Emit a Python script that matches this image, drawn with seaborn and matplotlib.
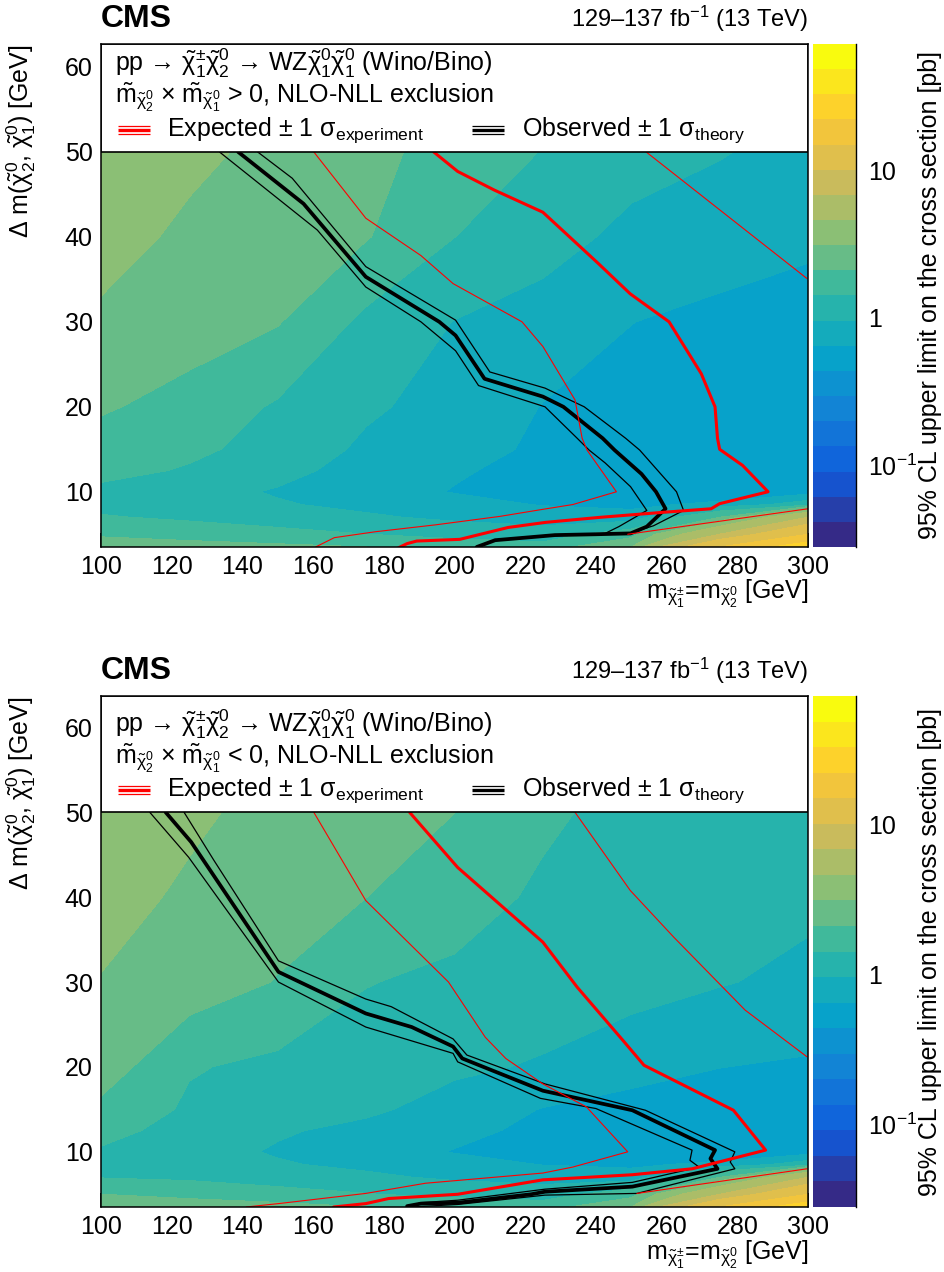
# -*- coding: utf-8 -*-
import numpy as np
import matplotlib
matplotlib.use("Agg")
import matplotlib.pyplot as plt
import seaborn as sns
from matplotlib.colors import LinearSegmentedColormap, ListedColormap, LogNorm
from matplotlib.ticker import MultipleLocator, FixedLocator, LogLocator, FuncFormatter, NullFormatter

# grid of the limit map (GeV)
mass_grid = [100, 125, 150, 175, 200, 225, 250, 275, 300]
dm_grid = [3.5, 5, 7, 8.5, 10, 12.5, 15, 20, 30, 40, 50]

# 95% CL upper limit [pb], one row per dm value (m2 x m1 > 0)
xsec_pos = [
    [2.55, 2.41, 2.27, 2.10, 1.72, 1.59, 3.11, 14.9, 26.9],
    [1.98, 1.79, 1.59, 1.42, 1.26, 1.16, 1.72, 6.81, 14.9],
    [1.47, 1.31, 1.16, 1.02, 0.867, 0.756, 0.727, 2.10, 6.81],
    [1.23, 1.12, 0.995, 0.850, 0.727, 0.634, 0.597, 0.698, 1.16],
    [1.28, 1.10, 0.920, 0.756, 0.634, 0.552, 0.510, 0.500, 0.531],
    [1.59, 1.36, 1.08, 0.801, 0.672, 0.574, 0.520, 0.491, 0.491],
    [1.79, 1.53, 1.21, 0.884, 0.727, 0.609, 0.531, 0.491, 0.481],
    [2.18, 1.83, 1.34, 1.02, 0.801, 0.638, 0.552, 0.510, 0.491],
    [2.81, 2.45, 2.14, 1.26, 0.946, 0.786, 0.650, 0.574, 0.531],
    [3.78, 2.76, 2.41, 2.14, 1.42, 1.12, 0.850, 0.786, 0.698],
    [4.25, 3.49, 2.65, 2.27, 1.86, 1.39, 1.12, 0.976, 0.850],
]

# same for m2 x m1 < 0
xsec_neg = [
    [2.87, 2.55, 2.36, 2.10, 1.79, 1.66, 3.11, 14.9, 26.9],
    [2.10, 1.86, 1.63, 1.44, 1.28, 1.19, 1.72, 6.81, 14.9],
    [1.39, 1.31, 1.16, 1.04, 0.884, 0.786, 0.741, 2.10, 6.81],
    [1.21, 1.12, 0.995, 0.867, 0.741, 0.640, 0.609, 0.698, 1.16],
    [1.34, 1.10, 0.920, 0.771, 0.634, 0.552, 0.510, 0.500, 0.520],
    [1.63, 1.16, 0.995, 0.867, 0.713, 0.586, 0.520, 0.500, 0.500],
    [1.94, 1.31, 1.14, 1.02, 0.817, 0.634, 0.541, 0.510, 0.500],
    [2.45, 1.47, 1.26, 1.12, 1.02, 0.920, 0.756, 0.650, 0.609],
    [3.04, 2.50, 2.06, 1.44, 1.28, 1.16, 1.08, 0.976, 0.884],
    [3.63, 2.87, 2.45, 2.10, 1.69, 1.31, 1.16, 1.08, 1.02],
    [4.25, 3.36, 2.65, 2.36, 2.10, 1.53, 1.21, 1.08, 0.976],
]

# exclusion contours, m2 x m1 > 0
exp_pos_x = [194.1, 200.9, 211.3, 225.0, 240.6, 249.7, 260.7, 269.8, 273.7, 274.4, 275.0, 281.5, 288.7,
             275.0, 272.6, 259.6, 241.4, 225.8, 215.2, 201.5, 189.3, 186.6, 184.1]
exp_pos_y = [50.0, 47.7, 45.5, 42.9, 36.9, 33.3, 30.0, 23.9, 20.0, 16.3, 15.0, 13.1, 10.0,
             8.6, 8.0, 7.6, 7.0, 6.4, 5.8, 4.4, 4.2, 3.9, 3.4]
exp_pos_dn_x = [160.2, 174.9, 190.5, 199.6, 219.1, 225.0, 234.1, 236.1, 237.5, 245.8,
                233.5, 224.5, 212.8, 194.5, 177.7, 166.0, 160.7]
exp_pos_dn_y = [50.0, 42.2, 37.8, 34.5, 30.0, 27.1, 20.8, 16.3, 14.9, 10.0,
                8.5, 7.9, 7.1, 6.1, 5.3, 4.6, 3.5]
exp_pos_up_x = [[254.2, 299.7], [300.0, 249.0]]
exp_pos_up_y = [[50.0, 35.1], [8.0, 5.0]]
obs_pos_x = [138.8, 157.3, 174.9, 195.7, 200.3, 208.5, 225.0, 230.8, 241.9, 245.3, 252.9, 257.0, 259.7,
             254.4, 249.8, 240.0, 228.4, 220.0, 211.5, 206.3]
obs_pos_y = [50.0, 43.9, 35.3, 30.0, 28.4, 23.3, 21.2, 20.0, 16.3, 14.9, 12.1, 10.0, 8.0,
             5.9, 5.1, 5.0, 4.9, 4.6, 4.3, 3.5]
obs_pos_up_x = [144.3, 154.1, 174.9, 200.3, 210.0, 225.6, 236.7, 248.4, 252.4, 262.8, 264.8,
                256.3, 249.8, 240.0, 228.4, 220.0, 211.5, 206.3]
obs_pos_up_y = [50.0, 46.9, 36.5, 30.2, 24.1, 22.2, 20.0, 16.3, 14.9, 10.0, 7.8,
                6.0, 5.15, 5.05, 4.95, 4.65, 4.35, 3.5]
obs_pos_dn_x = [133.5, 161.2, 174.9, 190.5, 200.3, 206.8, 225.6, 234.7, 238.1, 242.6, 249.8, 254.4,
                246.5, 242.6, 228.4, 220.0, 211.5, 206.3]
obs_pos_dn_y = [50.0, 40.8, 34.1, 30.0, 26.6, 22.5, 20.0, 16.3, 14.9, 13.4, 10.6, 7.8,
                5.9, 5.1, 4.85, 4.55, 4.25, 3.5]

# exclusion contours, m2 x m1 < 0
exp_neg_x = [187.3, 200.9, 225.0, 234.7, 247.7, 253.6, 278.9, 288.0,
             267.2, 250.3, 225.0, 200.9, 181.4, 174.9, 165.8]
exp_neg_y = [50.0, 43.5, 34.7, 29.4, 23.1, 20.2, 14.9, 10.2,
             8.0, 7.3, 6.7, 5.0, 4.5, 3.9, 3.5]
exp_neg_dn_x = [160.2, 174.9, 198.3, 208.7, 214.5, 225.0, 237.3, 249.0,
                233.4, 225.0, 191.8, 174.9, 150.2, 141.1]
exp_neg_dn_y = [50.0, 39.6, 30.0, 23.5, 21.0, 18.0, 15.3, 10.0,
                8.2, 7.5, 6.3, 5.1, 3.9, 3.5]
exp_neg_up_x = [[234.1, 249.7, 262.0, 282.2, 299.7], [299.7, 251.6]]
exp_neg_up_y = [[50.0, 40.8, 35.3, 26.7, 21.2], [8.0, 5.1]]
obs_neg_x = [118.3, 125.5, 150.2, 174.9, 187.9, 199.6, 202.2, 225.0, 250.3, 273.7, 272.4, 274.4,
             250.3, 225.6, 221.7, 200.9, 190.5, 186.6]
obs_neg_y = [50.0, 46.5, 31.2, 26.3, 24.7, 22.4, 21.0, 17.2, 14.9, 10.2, 9.2, 8.0,
             5.9, 5.3, 5.0, 4.0, 3.9, 3.6]
obs_neg_up_x = [123.5, 132.0, 150.2, 174.9, 182.1, 199.6, 203.5, 225.6, 254.0, 279.3, 278.0, 279.3,
                251.6, 225.6, 200.9, 188.0]
obs_neg_up_y = [50.0, 44.3, 32.5, 28.0, 27.1, 23.3, 21.4, 18.0, 14.9, 10.0, 8.8, 8.0,
                5.1, 4.9, 3.8, 3.5]
obs_neg_dn_x = [113.8, 124.8, 150.2, 174.9, 199.6, 200.9, 224.3, 240.0, 267.2, 266.6, 269.2,
                250.3, 225.6, 200.9, 190.0]
obs_neg_dn_y = [50.0, 44.7, 30.0, 24.7, 21.6, 20.6, 16.3, 15.1, 10.2, 9.0, 8.2,
                6.4, 5.6, 4.3, 4.0]

# colour scale range [pb]
z_min, z_max, n_bands = 0.028, 71.6, 20

# ROOT kBird palette
bird_stops = [0.0, 0.125, 0.25, 0.375, 0.5, 0.625, 0.75, 0.875, 1.0]
bird_r = [0.2082, 0.0592, 0.0780, 0.0232, 0.1802, 0.5301, 0.8186, 0.9956, 0.9764]
bird_g = [0.1664, 0.3599, 0.5041, 0.6419, 0.7178, 0.7492, 0.7328, 0.7862, 0.9832]
bird_b = [0.5293, 0.8684, 0.8385, 0.7914, 0.6425, 0.4662, 0.3499, 0.1968, 0.0539]
bird = LinearSegmentedColormap.from_list(
    "bird", list(zip(bird_stops, zip(bird_r, bird_g, bird_b))))
band_cmap = ListedColormap([bird(k / (n_bands - 1)) for k in range(n_bands)])
levels = np.logspace(np.log10(z_min), np.log10(z_max), n_bands + 1)

sns.set_theme(style="ticks")
plt.rcParams["font.family"] = ["Liberation Sans", "DejaVu Sans"]
plt.rcParams["mathtext.fontset"] = "custom"
plt.rcParams["mathtext.rm"] = "Liberation Sans"
plt.rcParams["mathtext.it"] = "Liberation Sans:italic"
plt.rcParams["mathtext.bf"] = "Liberation Sans:bold"
plt.rcParams["mathtext.sf"] = "Liberation Sans"
for k in ["text.color", "axes.labelcolor", "axes.edgecolor", "xtick.color", "ytick.color"]:
    plt.rcParams[k] = "black"

FS = 18
chi = r"\tilde{\mathrm{\chi}}"

fig = plt.figure(figsize=(9.45, 12.72), dpi=100)


def draw_panel(rect, ymax, xsec, sign, exp, exp_dn, exp_up, obs, obs_up, obs_dn):
    ax = fig.add_axes(rect)
    cax = fig.add_axes([0.8603, rect[1], 0.0455, rect[3]])

    cf = ax.contourf(mass_grid, dm_grid, xsec, levels=levels, cmap=band_cmap,
                     norm=LogNorm(z_min, z_max), zorder=1)

    # observed (black) and expected (red) contours
    for xs, ys in [obs_up, obs_dn]:
        sns.lineplot(x=xs, y=ys, sort=False, estimator=None, color="black", lw=0.9, ax=ax, zorder=3)
    sns.lineplot(x=obs[0], y=obs[1], sort=False, estimator=None, color="black", lw=2.7, ax=ax, zorder=3)
    sns.lineplot(x=exp_dn[0], y=exp_dn[1], sort=False, estimator=None, color="red", lw=0.8, ax=ax, zorder=3)
    for xs, ys in zip(*exp_up):
        sns.lineplot(x=xs, y=ys, sort=False, estimator=None, color="red", lw=0.8, ax=ax, zorder=3)
    sns.lineplot(x=exp[0], y=exp[1], sort=False, estimator=None, color="red", lw=2.2, ax=ax, zorder=3)

    ax.set_xlim(100, 300)
    ax.set_ylim(3.5, ymax)

    # legend box above dm = 50
    ax.axhspan(50, ymax, facecolor="white", edgecolor="black", lw=1.2, zorder=4)
    tr = ax.get_yaxis_transform()
    ax.text(0.02, 60.4,
            "pp → $" + chi + r"^{\pm}_{1}" + chi + r"^{0}_{2}$ → WZ$"
            + chi + r"^{0}_{1}" + chi + r"^{0}_{1}$ (Wino/Bino)",
            transform=tr, fontsize=FS, va="center", ha="left", zorder=5)
    ax.text(0.02, 56.4,
            r"$\tilde{\mathrm{m}}_{" + chi + r"^{0}_{2}}$ × $\tilde{\mathrm{m}}_{" + chi
            + r"^{0}_{1}}$ " + sign + " 0, NLO-NLL exclusion",
            transform=tr, fontsize=FS, va="center", ha="left", zorder=5)
    for x0, col, txt, sub in [(0.024, "red", "Expected", "experiment"),
                              (0.525, "black", "Observed", "theory")]:
        for dy, w in [(0.5, 0.9), (0.0, 2.4), (-0.5, 0.9)]:
            ax.plot([x0, x0 + 0.045], [52.6 + dy, 52.6 + dy], transform=tr, color=col,
                    lw=w, zorder=5, solid_capstyle="butt")
        ax.text(x0 + 0.07, 52.6, txt + r" ± 1 $\mathrm{\sigma}_{\mathrm{" + sub + "}}$",
                transform=tr, fontsize=FS, va="center", ha="left", zorder=5)

    # axes styling
    ax.xaxis.set_major_locator(MultipleLocator(20))
    ax.xaxis.set_minor_locator(MultipleLocator(5))
    ax.yaxis.set_major_locator(MultipleLocator(10))
    ax.yaxis.set_minor_locator(MultipleLocator(2))
    ax.tick_params(axis="x", which="major", direction="in", length=10, width=1.1, labelsize=FS, pad=6)
    ax.tick_params(axis="x", which="minor", direction="in", length=5, width=1.1)
    ax.tick_params(axis="y", which="major", direction="in", length=15, width=1.1, labelsize=FS, pad=6)
    ax.tick_params(axis="y", which="minor", direction="in", length=7.5, width=1.1)
    for s in ax.spines.values():
        s.set_linewidth(1.1)
        s.set_zorder(6)

    ax.set_xlabel(r"m$_{" + chi + r"^{\pm}_{1}}$=m$_{" + chi + r"^{0}_{2}}$ [GeV]",
                  fontsize=FS, loc="right")
    ax.xaxis.set_label_coords(1.0, -0.062)
    ax.set_ylabel(r"$\Delta$ m($" + chi + r"^{0}_{2}$, $" + chi + r"^{0}_{1}$) [GeV]",
                  fontsize=FS, loc="top")
    ax.yaxis.set_label_coords(-0.089, 1.0)

    ax.text(0.0, 1.034, "CMS", transform=ax.transAxes, fontsize=23, fontweight="bold",
            ha="left", va="baseline")
    ax.text(1.0, 1.034, r"129–137 fb$^{-1}$ (13 TeV)", transform=ax.transAxes, fontsize=17,
            ha="right", va="baseline")

    # colour bar
    cb = fig.colorbar(cf, cax=cax)
    cb.outline.set_visible(False)
    cax.spines["right"].set_visible(True)
    cax.spines["right"].set_linewidth(1.0)
    cax.yaxis.set_ticks_position("right")
    cax.yaxis.set_major_locator(FixedLocator([0.1, 1, 10]))
    cax.yaxis.set_major_formatter(FuncFormatter(
        lambda v, p: {0.1: r"10$^{-1}$", 1.0: "1", 10.0: "10"}.get(round(v, 3), "")))
    cax.yaxis.set_minor_locator(LogLocator(base=10, subs=np.arange(2, 10)))
    cax.yaxis.set_minor_formatter(NullFormatter())
    cax.tick_params(which="major", direction="in", length=16, width=1.0, labelsize=FS, pad=9)
    cax.tick_params(which="minor", direction="in", length=9, width=1.0)
    cax.set_ylabel("95% CL upper limit on the cross section [pb]", fontsize=FS)
    cax.yaxis.set_label_coords(2.45, 0.5)
    return ax


draw_panel([0.10688, 0.56997, 0.74815, 0.39544], 62.7, xsec_pos, ">",
           (exp_pos_x, exp_pos_y), (exp_pos_dn_x, exp_pos_dn_y), (exp_pos_up_x, exp_pos_up_y),
           (obs_pos_x, obs_pos_y), (obs_pos_up_x, obs_pos_up_y), (obs_pos_dn_x, obs_pos_dn_y))
draw_panel([0.10688, 0.05110, 0.74815, 0.40173], 63.7, xsec_neg, "<",
           (exp_neg_x, exp_neg_y), (exp_neg_dn_x, exp_neg_dn_y), (exp_neg_up_x, exp_neg_up_y),
           (obs_neg_x, obs_neg_y), (obs_neg_up_x, obs_neg_up_y), (obs_neg_dn_x, obs_neg_dn_y))

fig.savefig("out.png", dpi=100)
